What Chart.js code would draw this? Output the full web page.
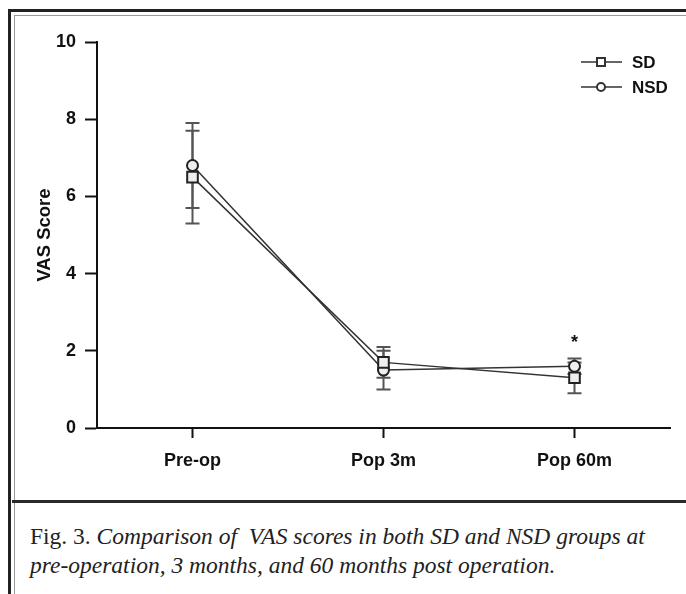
<!DOCTYPE html>
<html>
<head>
<meta charset="utf-8">
<script src="https://cdn.jsdelivr.net/npm/chart.js@4.4.0/dist/chart.umd.min.js"></script>
<style>
  body { margin: 0; background: #fff; width: 686px; height: 594px; overflow: hidden; position: relative; }
  #outer { position: absolute; left: 8px; top: 9px; width: 700px; height: 600px; border-left: 3px solid #222; border-top: 3px solid #222; }
  #inner { position: absolute; left: 14px; top: 15px; width: 700px; height: 600px; border-left: 1px solid #999; border-top: 1px solid #999; }
  #sep { position: absolute; left: 12px; top: 500px; width: 680px; height: 3px; background: #2a2a2a; }
  #wrap { position: absolute; left: 0; top: 0; width: 686px; height: 500px; }
  #caption { position: absolute; left: 30px; top: 522px; font-family: "Liberation Serif", "DejaVu Serif", serif; font-size: 23.5px; line-height: 29px; color: #222; white-space: nowrap; }
  #caption i { font-style: italic; }
</style>
</head>
<body>
<div id="outer"></div>
<div id="inner"></div>
<div id="sep"></div>
<div id="wrap"><canvas id="myChart" width="686" height="500"></canvas></div>
<div id="caption">Fig. 3. <i>Comparison of&nbsp; VAS scores in both SD and NSD groups at<br>pre-operation, 3 months, and 60 months post operation.</i></div>
<script>
// time points along x
var times = ['Pre-op', 'Pop 3m', 'Pop 60m'];

// mean VAS and error (SD)
var sdMean = [6.5, 1.7, 1.3];
var sdErr = [1.2, 0.4, 0.4];
var nsdMean = [6.8, 1.5, 1.6];
var nsdErr = [1.1, 0.5, 0.2];

// y ticks
var yTicks = [0, 2, 4, 6, 8, 10];

// significance marker
var starAt = { index: 2, value: 2.3 };

var bold = '"Liberation Sans", Arial';

var errorBars = {
  id: 'errorBars',
  beforeDatasetsDraw: function(chart) {
    var c = chart.ctx;
    var y = chart.scales.y;
    var x = chart.scales.x;
    c.save();
    c.strokeStyle = '#555';
    c.lineWidth = 2;
    chart.data.datasets.forEach(function(ds) {
      ds.data.forEach(function(v, i) {
        var px = x.getPixelForValue(i);
        var top = y.getPixelForValue(v + ds.err[i]);
        var bot = y.getPixelForValue(v - ds.err[i]);
        c.beginPath();
        c.moveTo(px, top); c.lineTo(px, bot);
        c.moveTo(px - 7, top); c.lineTo(px + 7, top);
        c.moveTo(px - 7, bot); c.lineTo(px + 7, bot);
        c.stroke();
      });
    });
    c.restore();
  },
  afterDraw: function(chart) {
    var c = chart.ctx;
    var x = chart.scales.x;
    var y = chart.scales.y;
    c.save();
    // asterisk
    c.fillStyle = '#111';
    c.font = 'bold 18px ' + bold;
    c.textAlign = 'center';
    c.textBaseline = 'middle';
    c.fillText('*', x.getPixelForValue(starAt.index), y.getPixelForValue(starAt.value) + 4);

    // legend
    var lx = 581, ly = 62;
    chart.data.datasets.forEach(function(ds, k) {
      var yy = ly + k * 25;
      c.strokeStyle = '#333';
      c.lineWidth = 1.5;
      c.beginPath();
      c.moveTo(lx, yy); c.lineTo(lx + 41, yy);
      c.stroke();
      c.lineWidth = 2;
      c.fillStyle = '#fff';
      c.beginPath();
      if (ds.pointStyle == 'rect') {
        c.rect(lx + 16, yy - 4, 8, 8);
      } else {
        c.arc(lx + 20, yy, 4, 0, Math.PI * 2);
      }
      c.fill(); c.stroke();
      c.fillStyle = '#111';
      c.font = 'bold 17px ' + bold;
      c.textAlign = 'left';
      c.fillText(ds.label, lx + 51, yy + 1);
    });
    c.restore();
  }
};

var ctx = document.getElementById('myChart');
var myChart = new Chart(ctx, {
  type: 'line',
  data: {
    labels: times,
    datasets: [
      {
        label: 'SD',
        data: sdMean,
        err: sdErr,
        borderColor: '#333',
        borderWidth: 1.5,
        pointStyle: 'rect',
        pointRadius: 7.5,
        pointBorderWidth: 2,
        pointBorderColor: '#222',
        pointBackgroundColor: '#eee',
        fill: false
      },
      {
        label: 'NSD',
        data: nsdMean,
        err: nsdErr,
        borderColor: '#333',
        borderWidth: 1.5,
        pointStyle: 'circle',
        pointRadius: 5.5,
        pointBorderWidth: 2,
        pointBorderColor: '#222',
        pointBackgroundColor: '#eee',
        fill: false
      }
    ]
  },
  options: {
    responsive: false,
    animation: false,
    layout: { padding: { left: 0, top: 42, right: 16, bottom: 0 } },
    plugins: { legend: { display: false }, tooltip: { enabled: false } },
    scales: {
      x: {
        offset: true,
        afterFit: function(s) { s.height = 72; },
        border: { color: '#111', width: 2 },
        grid: { offset: false, drawOnChartArea: false, tickLength: 10, tickWidth: 2, color: '#111' },
        ticks: { color: '#111', padding: 12, font: { family: bold, size: 18, weight: 'bold' } }
      },
      y: {
        min: 0,
        max: 10,
        afterFit: function(s) { s.width = 97; },
        afterBuildTicks: function(s) { s.ticks = yTicks.map(function(v) { return { value: v }; }); },
        border: { color: '#111', width: 2 },
        grid: { drawOnChartArea: false, tickLength: 12, tickWidth: 2, color: '#111' },
        ticks: { color: '#111', padding: 9, font: { family: bold, size: 18, weight: 'bold' } },
        title: {
          display: true,
          text: 'VAS Score',
          color: '#111',
          padding: { top: 34, bottom: 0 },
          font: { family: bold, size: 18.5, weight: 'bold' }
        }
      }
    }
  },
  plugins: [errorBars]
});
</script>
</body>
</html>
